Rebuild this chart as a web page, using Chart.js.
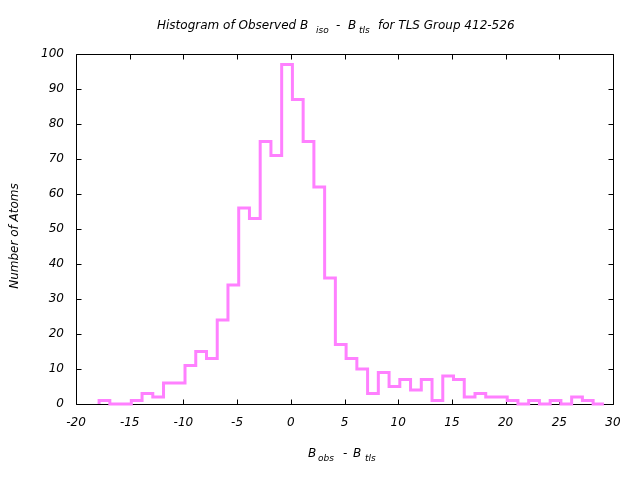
<!DOCTYPE html>
<html>
<head>
<meta charset="utf-8">
<script src="https://cdn.jsdelivr.net/npm/chart.js@4.4.1/dist/chart.umd.min.js"></script>
<style>
  html, body { margin: 0; padding: 0; background: #fff; }
  canvas { display: block; }
</style>
</head>
<body>
<canvas id="histChart" width="640" height="480"></canvas>
<script>
/* Histogram of Observed B_iso - B_tls, TLS group 412-526
 * one step per bin, left edges + counts */

const binLeft = [
  -17.85, -16.85, -15.85, -14.85, -13.85, -12.85, -11.85, -10.85, -9.85, -8.85,
  -7.85, -6.85, -5.85, -4.85, -3.85, -2.85, -1.85, -0.85, 0.15, 1.15,
  2.15, 3.15, 4.15, 5.15, 6.15, 7.15, 8.15, 9.15, 10.15, 11.15,
  12.15, 13.15, 14.15, 15.15, 16.15, 17.15, 18.15, 19.15, 20.15, 21.15,
  22.15, 23.15, 24.15, 25.15, 26.15, 27.15, 28.15
];
const binEnd = 29.15;

const atomCounts = [
  1, 0, 0, 1, 3, 2, 6, 6, 11, 15,
  13, 24, 34, 56, 53, 75, 71, 97, 87, 75,
  62, 36, 17, 13, 10, 3, 9, 5, 7, 4,
  7, 1, 8, 7, 2, 3, 2, 2, 1, 0,
  1, 0, 1, 0, 2, 1, 0
];

const xRange = [-20, 30];
const xStep  = 5;
const yRange = [0, 100];
const yStep  = 10;

/* [text, isSubscript, left x] */
const titleParts = [
  ['Histogram of Observed B', false, 157], ['iso', true, 316], ['-', false, 336],
  ['B', false, 348], ['tls', true, 359], ['for TLS Group 412-526', false, 378]
];
const xLabelParts = [
  ['B', false, 308], ['obs', true, 318], ['-', false, 343], ['B', false, 353], ['tls', true, 365]
];
const yLabel = 'Number of Atoms';

(function () {
  'use strict';

  const FAMILY   = "'DejaVu Sans', sans-serif";
  const MAIN     = 'italic 12px ' + FAMILY;
  const SUB      = 'italic 9px ' + FAMILY;
  const TICK_LEN = 5;

  /* ── step points: rise at first edge, fall after last bin ── */
  const points = [{ x: binLeft[0], y: 0 }]
    .concat(binLeft.map((x, i) => ({ x, y: atomCounts[i] })))
    .concat([{ x: binEnd, y: atomCounts[atomCounts.length - 1] }]);

  function drawParts(ctx, parts, baseline) {
    ctx.textAlign = 'left';
    ctx.textBaseline = 'alphabetic';
    parts.forEach(([t, sub, x]) => {
      ctx.font = sub ? SUB : MAIN;
      ctx.fillText(t, x, baseline + (sub ? 4 : 0));
    });
  }

  /* ── gnuplot-ish frame with inward ticks on all four sides ── */
  const framePlugin = {
    id: 'frame',
    beforeDatasetsDraw(chart) {
      const { ctx, chartArea: a, scales: { x, y } } = chart;
      const px = v => Math.round(v) + 0.5;
      ctx.save();
      ctx.strokeStyle = '#000';
      ctx.lineWidth = 1;
      ctx.beginPath();
      ctx.rect(px(a.left), px(a.top), Math.round(a.right) - Math.round(a.left), Math.round(a.bottom) - Math.round(a.top));
      y.ticks.forEach(t => {
        const p = px(y.getPixelForValue(t.value));
        ctx.moveTo(px(a.left), p);  ctx.lineTo(px(a.left) + TICK_LEN, p);
        ctx.moveTo(px(a.right), p); ctx.lineTo(px(a.right) - TICK_LEN, p);
      });
      x.ticks.forEach(t => {
        const p = px(x.getPixelForValue(t.value));
        ctx.moveTo(p, px(a.bottom)); ctx.lineTo(p, px(a.bottom) - TICK_LEN);
        ctx.moveTo(p, px(a.top));    ctx.lineTo(p, px(a.top) + TICK_LEN);
      });
      ctx.stroke();
      ctx.restore();
    },
    afterDraw(chart) {
      const { ctx } = chart;
      ctx.save();
      ctx.fillStyle = '#000';
      drawParts(ctx, titleParts, 29);
      drawParts(ctx, xLabelParts, 456.5);

      ctx.translate(14.5, 236);
      ctx.rotate(-Math.PI / 2);
      ctx.font = MAIN;
      ctx.textAlign = 'center';
      ctx.textBaseline = 'middle';
      ctx.fillText(yLabel, 0, 0);
      ctx.restore();
    }
  };

  const tickFont = { family: FAMILY, size: 12, style: 'italic' };

  new Chart(document.getElementById('histChart'), {
    type: 'line',
    data: {
      datasets: [{
        label: 'Atoms',
        data: points,
        stepped: 'before',
        borderColor: '#ff80ff',
        borderWidth: 3,
        borderJoinStyle: 'miter',
        borderCapStyle: 'butt',
        pointRadius: 0,
        fill: false,
        clip: false
      }]
    },
    options: {
      responsive: false,
      animation: false,
      devicePixelRatio: 1,
      layout: { padding: { top: 54, right: 27, left: 0, bottom: 0 } },
      plugins: { legend: { display: false }, tooltip: { enabled: false }, title: { display: false } },
      scales: {
        x: {
          type: 'linear',
          min: xRange[0], max: xRange[1],
          grid: { display: false, drawTicks: false },
          border: { display: false },
          ticks: { stepSize: xStep, padding: 12, color: '#000', font: tickFont, maxRotation: 0, autoSkip: false },
          afterFit: s => { s.height = 76; }
        },
        y: {
          min: yRange[0], max: yRange[1],
          grid: { display: false, drawTicks: false },
          border: { display: false },
          ticks: { stepSize: yStep, padding: 12, color: '#000', font: tickFont },
          afterFit: s => { s.width = 76; }
        }
      }
    },
    plugins: [framePlugin]
  });
})();
</script>
</body>
</html>
